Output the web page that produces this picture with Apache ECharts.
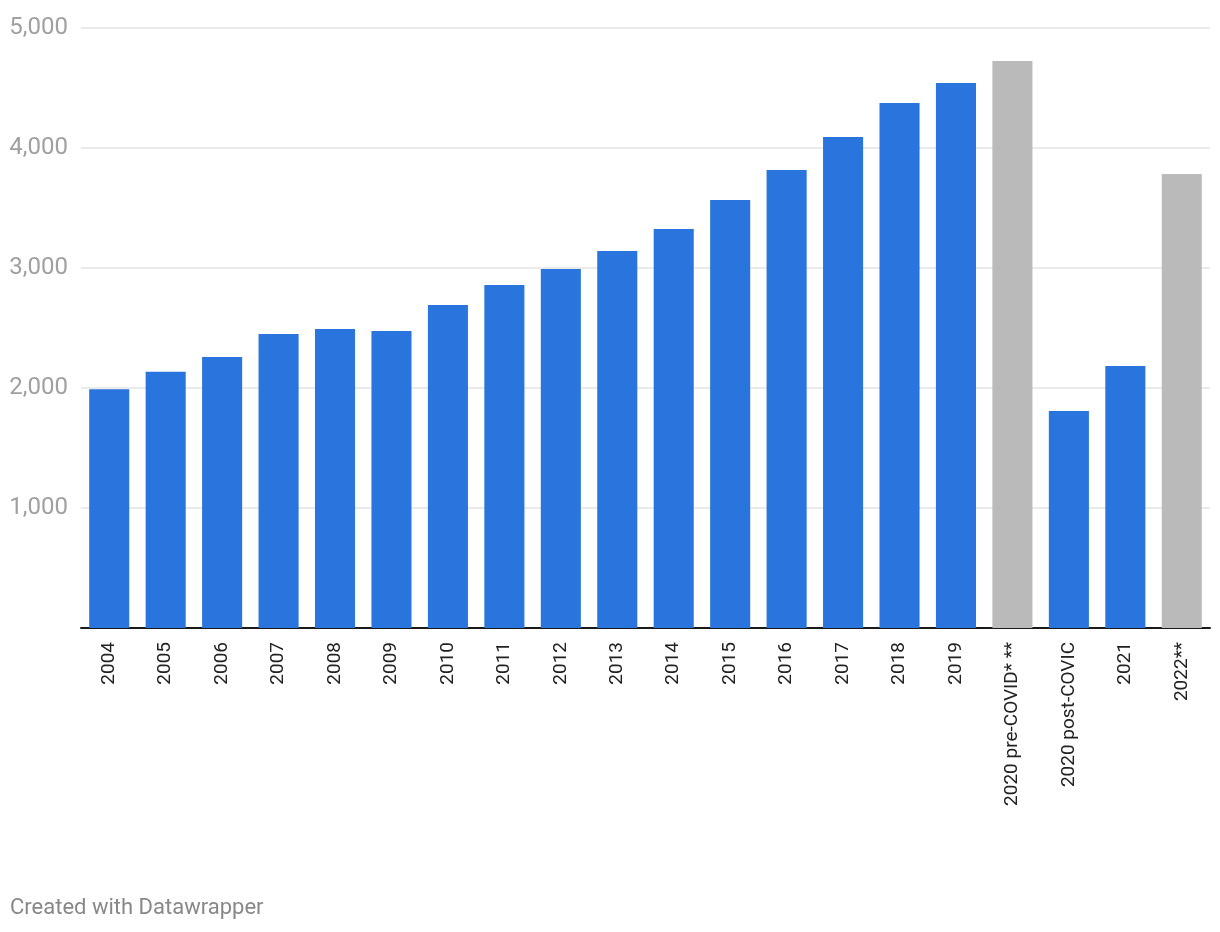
<!DOCTYPE html>
<html>
<head>
<meta charset="utf-8">
<script src="https://cdn.jsdelivr.net/npm/echarts@6/dist/echarts.min.js"></script>
<style>
html,body{margin:0;padding:0;background:#fff;}
#c{width:1220px;height:932px;}
</style>
</head>
<body>
<div id="c"></div>
<script>
const categories = ["2004","2005","2006","2007","2008","2009","2010","2011","2012","2013","2014","2015","2016","2017","2018","2019","2020 pre-COVID* **","2020 post-COVIC","2021","2022**"];
const values = [1990,2135,2258,2450,2492,2475,2692,2858,2992,3142,3325,3567,3817,4092,4375,4542,4725,1808,2183,3783];
const estimated = [false,false,false,false,false,false,false,false,false,false,false,false,false,false,false,false,true,false,false,true];
const yTicks = [0,1000,2000,3000,4000,5000];

const chart = echarts.init(document.getElementById('c'));
chart.setOption({
  animation:false,
  grid:{left:81,right:10,top:28,bottom:304,containLabel:false},
  xAxis:{
    type:'category',
    data:categories,
    axisLine:{lineStyle:{color:'#1a1a1a',width:2}},
    axisTick:{show:false},
    axisLabel:{rotate:90,color:'#222',fontSize:19,fontFamily:'Roboto',margin:14,interval:0}
  },
  yAxis:{
    type:'value',min:yTicks[0],max:yTicks[yTicks.length-1],interval:1000,
    axisLine:{show:false},axisTick:{show:false},
    splitLine:{lineStyle:{color:'#e3e3e3',width:1.5}},
    axisLabel:{color:'#a0a0a0',fontSize:24,fontFamily:'Roboto',margin:13,
      formatter:v=>v===0?'':v.toLocaleString('en-US')}
  },
  series:[{
    type:'bar',
    barCategoryGap:'29%',
    data:values.map((v,i)=>({value:v,itemStyle:{color:estimated[i]?'#bababa':'#2a75dd'}}))
  }],
  graphic:[{
    type:'text',left:10,top:897,
    style:{text:'Created with Datawrapper',fill:'#888',font:'22px Roboto'}
  }]
});
</script>
</body>
</html>
